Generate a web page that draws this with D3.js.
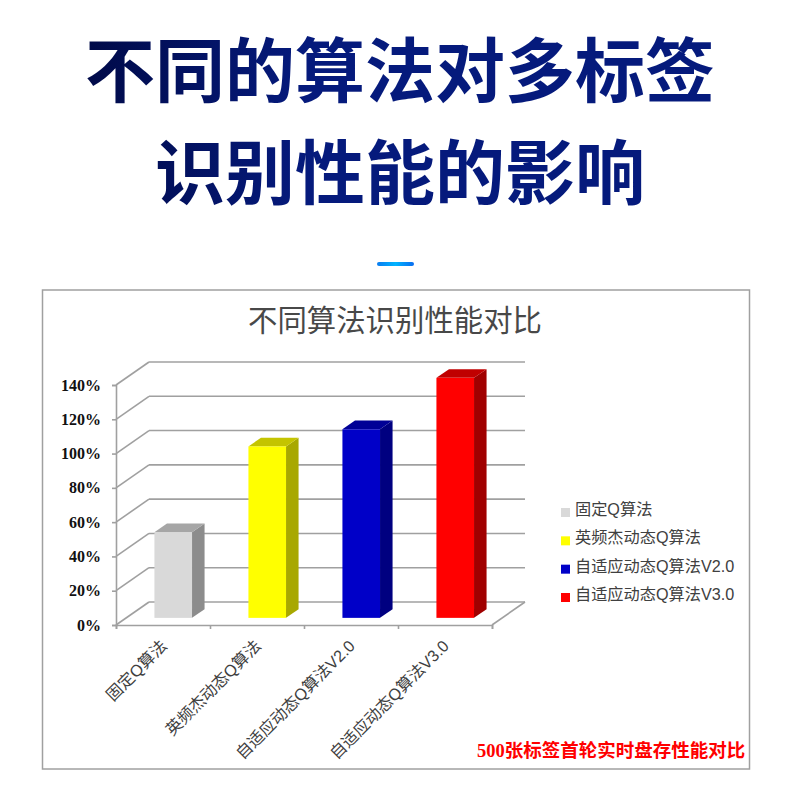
<!DOCTYPE html>
<html>
<head>
<meta charset="utf-8">
<script src="https://cdn.jsdelivr.net/npm/d3@7"></script>
<style>
  html, body { margin: 0; padding: 0; background: #fff; }
  svg { display: block; }
</style>
</head>
<body>
<div id="chart"></div>
<script>
// chart values
var categories = ["固定Q算法", "英频杰动态Q算法", "自适应动态Q算法V2.0", "自适应动态Q算法V3.0"];
var values = [50, 100, 110, 140];
var yTicks = [0, 20, 40, 60, 80, 100, 120, 140];
var headline = ["不同的算法对多标签", "识别性能的影响"];
var chartTitle = "不同算法识别性能对比";
var note = "500张标签首轮实时盘存性能对比";

var faces = [
  { front: "#d9d9d9", top: "#a6a6a6", side: "#8c8c8c" },
  { front: "#ffff00", top: "#c4c400", side: "#a8a800" },
  { front: "#0000c8", top: "#000096", side: "#000080" },
  { front: "#ff0000", top: "#c00000", side: "#a00000" }
];

var width = 790, height = 785;
var cjk = '"Noto Sans CJK SC", sans-serif';
var latin = '"Liberation Sans", "Noto Sans CJK SC", sans-serif';
var serif = '"Liberation Serif", "Noto Sans CJK SC", serif';

var svg = d3.select("#chart").append("svg")
  .attr("width", width)
  .attr("height", height);

var defs = svg.append("defs");

var headGrad = defs.append("linearGradient")
  .attr("id", "headGrad")
  .attr("gradientUnits", "userSpaceOnUse")
  .attr("x1", 85).attr("x2", 300).attr("y1", 0).attr("y2", 0);
headGrad.append("stop").attr("offset", "0%").attr("stop-color", "#000a48");
headGrad.append("stop").attr("offset", "100%").attr("stop-color", "#051a7c");

var barGrad = defs.append("linearGradient").attr("id", "barGrad");
barGrad.append("stop").attr("offset", "0%").attr("stop-color", "#0a7cf0");
barGrad.append("stop").attr("offset", "50%").attr("stop-color", "#00b4ff");
barGrad.append("stop").attr("offset", "100%").attr("stop-color", "#0a6cf0");

// big heading
svg.selectAll(".headline")
  .data(headline)
  .enter()
  .append("text")
  .attr("class", "headline")
  .attr("x", 400)
  .attr("y", function(d, i) { return 97 + i * 102; })
  .attr("text-anchor", "middle")
  .attr("font-family", cjk)
  .attr("font-weight", 700)
  .attr("font-size", 70)
  .attr("fill", "url(#headGrad)")
  .text(function(d) { return d; });

svg.append("rect")
  .attr("x", 377).attr("y", 262)
  .attr("width", 37).attr("height", 4)
  .attr("rx", 2)
  .attr("fill", "url(#barGrad)");

// frame
svg.append("rect")
  .attr("x", 42.5).attr("y", 290)
  .attr("width", 707).attr("height", 479)
  .attr("fill", "#fff")
  .attr("stroke", "#a0a0a0")
  .attr("stroke-width", 1.5);

svg.append("text")
  .attr("x", 395)
  .attr("y", 331)
  .attr("text-anchor", "middle")
  .attr("font-family", cjk)
  .attr("font-size", 29.4)
  .attr("fill", "#484848")
  .text(chartTitle);

// scales; depth runs from the front of the floor (0) to the back wall (1)
var x = d3.scaleBand()
  .domain(categories)
  .range([116, 492])
  .paddingInner(0.6)
  .paddingOuter(0.3);
var slots = d3.scaleLinear().domain([0, categories.length]).range([116, 492]);
var y = d3.scaleLinear().domain([0, 140]).range([625, 385]);
var depthX = d3.scaleLinear().domain([0, 1]).range([0, 33]);
var depthY = d3.scaleLinear().domain([0, 1]).range([0, -23]);
var barDepth = [0.31, 0.69];
var gridColor = "#a0a0a0";

// walls
var grid = svg.append("g").attr("fill", "none").attr("stroke", gridColor).attr("stroke-width", 1.6);

grid.selectAll(".back")
  .data(yTicks)
  .enter()
  .append("line")
  .attr("class", "back")
  .attr("x1", 116 + depthX(1))
  .attr("x2", 492 + depthX(1))
  .attr("y1", function(d) { return y(d) + depthY(1); })
  .attr("y2", function(d) { return y(d) + depthY(1); });

grid.selectAll(".side")
  .data(yTicks)
  .enter()
  .append("line")
  .attr("class", "side")
  .attr("x1", 116)
  .attr("x2", 116 + depthX(1))
  .attr("y1", function(d) { return y(d); })
  .attr("y2", function(d) { return y(d) + depthY(1); });

grid.append("line")
  .attr("x1", 492).attr("x2", 492 + depthX(1))
  .attr("y1", y(0)).attr("y2", y(0) + depthY(1));

// axes
var yAxis = d3.axisLeft(y)
  .tickValues(yTicks)
  .tickSize(4)
  .tickPadding(11)
  .tickFormat(function(d) { return d + "%"; });

var yAxisG = svg.append("g")
  .attr("transform", "translate(116,0)")
  .call(yAxis);
yAxisG.selectAll("text")
  .attr("font-family", serif)
  .attr("font-weight", 700)
  .attr("font-size", 16)
  .attr("fill", "#111");

var xAxis = d3.axisBottom(slots)
  .tickValues(d3.range(categories.length + 1))
  .tickSize(4)
  .tickFormat("");

var xAxisG = svg.append("g")
  .attr("transform", "translate(0," + y(0) + ")")
  .call(xAxis);

svg.selectAll(".domain, .tick line")
  .attr("stroke", gridColor)
  .attr("stroke-width", 1.6);

// bars
var bars = svg.selectAll(".bar")
  .data(categories.map(function(c, i) { return { name: c, value: values[i], face: faces[i] }; }))
  .enter()
  .append("g")
  .attr("class", "bar");

function px(d, right, depth) {
  return x(d.name) + (right ? x.bandwidth() : 0) + depthX(depth);
}
function py(v, depth) {
  return y(v) + depthY(depth);
}

bars.append("path")
  .attr("fill", function(d) { return d.face.side; })
  .attr("d", function(d) {
    return "M" + [px(d, 1, barDepth[0]), py(d.value, barDepth[0])] +
      "L" + [px(d, 1, barDepth[1]), py(d.value, barDepth[1])] +
      "L" + [px(d, 1, barDepth[1]), py(0, barDepth[1])] +
      "L" + [px(d, 1, barDepth[0]), py(0, barDepth[0])] + "Z";
  });

bars.append("path")
  .attr("fill", function(d) { return d.face.top; })
  .attr("d", function(d) {
    return "M" + [px(d, 0, barDepth[0]), py(d.value, barDepth[0])] +
      "L" + [px(d, 0, barDepth[1]), py(d.value, barDepth[1])] +
      "L" + [px(d, 1, barDepth[1]), py(d.value, barDepth[1])] +
      "L" + [px(d, 1, barDepth[0]), py(d.value, barDepth[0])] + "Z";
  });

bars.append("rect")
  .attr("fill", function(d) { return d.face.front; })
  .attr("x", function(d) { return px(d, 0, barDepth[0]); })
  .attr("y", function(d) { return py(d.value, barDepth[0]); })
  .attr("width", x.bandwidth())
  .attr("height", function(d) { return y(0) - y(d.value); });

// rotated category labels
svg.selectAll(".cat")
  .data(categories)
  .enter()
  .append("text")
  .attr("class", "cat")
  .attr("text-anchor", "end")
  .attr("font-family", latin)
  .attr("font-size", 16.3)
  .attr("fill", "#404040")
  .attr("transform", function(d) {
    return "translate(" + (x(d) + x.bandwidth() / 2 + 5) + ",647) rotate(-45)";
  })
  .text(function(d) { return d; });

// legend
var legendY = d3.scalePoint().domain(categories).range([510, 595]);

svg.selectAll(".swatch")
  .data(categories)
  .enter()
  .append("rect")
  .attr("class", "swatch")
  .attr("x", 561)
  .attr("y", function(d) { return legendY(d) - 2; })
  .attr("width", 9)
  .attr("height", 9)
  .attr("fill", function(d, i) { return faces[i].front; });

svg.selectAll(".legend")
  .data(categories)
  .enter()
  .append("text")
  .attr("class", "legend")
  .attr("x", 575)
  .attr("y", function(d) { return legendY(d) + 5; })
  .attr("font-family", latin)
  .attr("font-size", 16.2)
  .attr("fill", "#404040")
  .text(function(d) { return d; });

svg.append("text")
  .attr("x", 477)
  .attr("y", 757)
  .attr("font-family", serif)
  .attr("font-weight", 700)
  .attr("font-size", 18.5)
  .attr("fill", "#ff0000")
  .text(note);
</script>
</body>
</html>
